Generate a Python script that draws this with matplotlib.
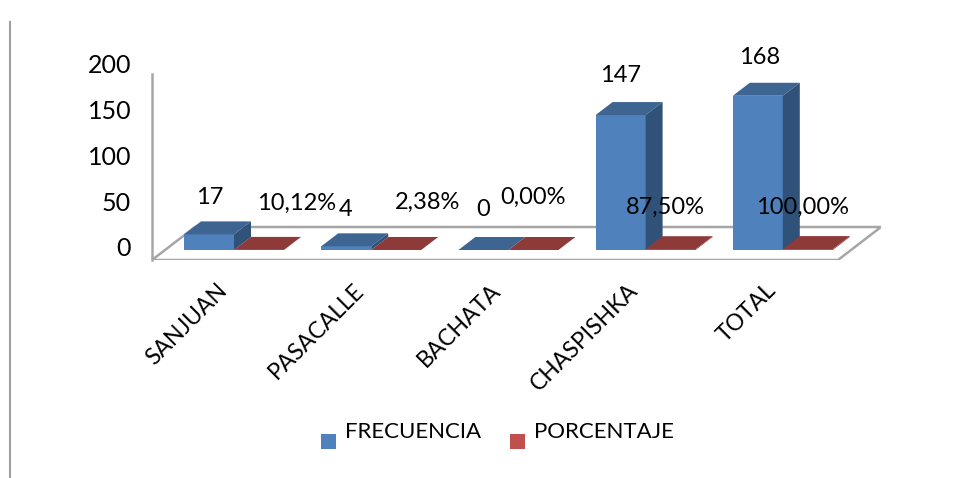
import matplotlib
matplotlib.use("Agg")
import matplotlib.pyplot as plt
import numpy as np
from matplotlib.lines import Line2D
from matplotlib.patches import Rectangle
from matplotlib.transforms import ScaledTranslation

plt.rcParams["font.family"] = ["Lato", "DejaVu Sans"]

categorias = ["SANJUAN", "PASACALLE", "BACHATA", "CHASPISHKA", "TOTAL"]
frecuencia = [17, 4, 0, 147, 168]
porcentaje = [0.1012, 0.0238, 0.0, 0.875, 1.0]
y_ticks = [0, 50, 100, 150, 200]

# desplazamiento de las etiquetas respecto a la barra, en pixeles
off_frec = [(1, 37), (-1, 37), (0, 41), (0, 40), (2, 38)]
off_porc = [(38, 47), (31, 48), (0, 53), (-5, 42), (-5, 42)]

W, H = 959, 478
FS = 17

AZUL = "#4F81BD"
AZUL_TOP = "#3E6591"
AZUL_LADO = "#305279"
ROJO = "#C0504D"
ROJO_TOP = "#8E3A38"
GRIS = "#A6A6A6"

# escala: 1 categoria = 137.2 px, 1 unidad = 0.918 px
PX_X = 137.2
PX_Y = 0.918
X0 = 234  # pixel de x = 0
Y0 = 250  # pixel de y = 0
LEFT, RIGHT, TOP, BOTTOM = 152, 881, Y0 - 200 * PX_Y, 260

fig = plt.figure(figsize=(W / 100, H / 100), dpi=100)
ax = fig.add_axes([LEFT / W, 1 - BOTTOM / H, (RIGHT - LEFT) / W, (BOTTOM - TOP) / H])
ax.patch.set_alpha(0)
ax.set_xlim((LEFT - X0) / PX_X, (RIGHT - X0) / PX_X)
ax.set_ylim((Y0 - BOTTOM) / PX_Y, 200)

ancho = 50 / PX_X
dx = 17 / PX_X
dy = 13 / PX_Y


def caja(x, alto, color, c_top, c_lado):
    ax.bar(x, alto, ancho, align="edge", color=color, zorder=3)
    ax.fill([x, x + ancho, x + ancho + dx, x + dx],
            [alto, alto, alto + dy, alto + dy], color=c_top, lw=0, zorder=3)
    ax.fill([x + ancho, x + ancho + dx, x + ancho + dx, x + ancho],
            [0, dy, alto + dy, alto], color=c_lado, lw=0, zorder=3)


# suelo del grafico
y_fr = (Y0 - 260) / PX_Y
y_bk = (Y0 - 227) / PX_Y
x_l, x_fr, x_br, x_bl = [(p - X0) / PX_X for p in (152, 838, 881, 195)]
ax.plot([x_l, x_fr, x_br, x_bl, x_l], [y_fr, y_fr, y_bk, y_bk, y_fr],
        color=GRIS, lw=1.8, zorder=1, solid_joinstyle="miter")

xs = np.arange(len(categorias))
for i in xs:
    caja(i - ancho, frecuencia[i], AZUL, AZUL_TOP, AZUL_LADO)
    caja(i, porcentaje[i], ROJO, ROJO_TOP, ROJO_TOP)

for i in xs:
    cx = i - ancho / 2
    ax.annotate(str(frecuencia[i]), (cx, frecuencia[i]),
                xytext=(off_frec[i][0] * 0.72, off_frec[i][1] * 0.72), textcoords="offset points",
                ha="center", va="center", fontsize=FS, color="black", zorder=5)
    etiqueta = f"{porcentaje[i] * 100:.2f}%".replace(".", ",")
    ax.annotate(etiqueta, (i + ancho / 2, porcentaje[i]),
                xytext=(off_porc[i][0] * 0.72, off_porc[i][1] * 0.72), textcoords="offset points",
                ha="center", va="center", fontsize=FS, color="black", zorder=5)

for lado in ("top", "right", "bottom"):
    ax.spines[lado].set_visible(False)
ax.spines["left"].set_color(GRIS)
ax.spines["left"].set_linewidth(1.8)
ax.spines["left"].set_bounds((Y0 - 260) / PX_Y, (Y0 - 74) / PX_Y)

ax.set_yticks(y_ticks)
ax.tick_params(axis="y", length=0, pad=15, labelsize=18)
subir = ScaledTranslation(0, 2 / 72 * 0.72 * 1.5, fig.dpi_scale_trans)
for lab in ax.get_yticklabels():
    lab.set_transform(lab.get_transform() + subir)

ax.set_xticks(xs - 18 / PX_X)
ax.set_xticklabels(categorias, rotation=45, ha="right", rotation_mode="anchor", fontsize=16.5)
ax.tick_params(axis="x", length=0, pad=14)

# leyenda a mano: el texto queda mas alto que el cuadro
for x_sw, x_tx, txt, col in [(321, 345, "FRECUENCIA", AZUL), (510, 534, "PORCENTAJE", ROJO)]:
    fig.add_artist(Rectangle((x_sw / W, 1 - 449 / H), 15 / W, 15 / H, transform=fig.transFigure,
                             color=col, lw=0))
    fig.text(x_tx / W, 1 - 432 / H, txt, ha="left", va="center", fontsize=16, color="black")

# linea vertical de la pagina
fig.add_artist(Line2D([10 / W, 10 / W], [0, 1 - 22 / H], transform=fig.transFigure,
                      color="#A0A0A0", lw=1.5))

fig.savefig("out.png", dpi=100)
